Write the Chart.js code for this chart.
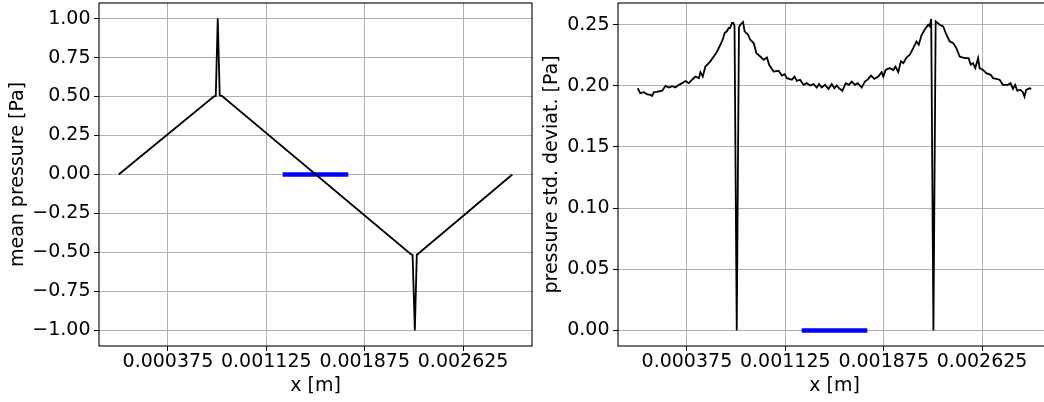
<!DOCTYPE html>
<html>
<head>
<meta charset="utf-8">
<script src="https://cdn.jsdelivr.net/npm/chart.js@4.4.1/dist/chart.umd.min.js"></script>
<style>
  html, body { margin: 0; padding: 0; background: #fff; overflow: hidden; }
  #figure { position: relative; width: 1044px; height: 402px; overflow: hidden; }
  #figure canvas { position: absolute; top: 0; }
  #meanChart { left: 0; }
  #stdChart { left: 519px; }
</style>
</head>
<body>
<div id="figure">
  <canvas id="meanChart" width="545" height="402"></canvas>
  <canvas id="stdChart" width="545" height="402"></canvas>
</div>
<script>
// Mean pressure along x
const meanX = [0, 0.000725, 0.00074, 0.000755, 0.00077, 0.000788,
  0.002225, 0.00224, 0.002257, 0.002272, 0.002285, 0.003];
const meanP = [0, 0.5, 0.505, 1.0, 0.508, 0.503,
  -0.51, -0.515, -1.0, -0.515, -0.507, 0];

// Pressure standard deviation along x
const stdX = [0, 0.00002, 0.000048, 0.000073, 0.000098, 0.000109, 0.000124, 0.000147, 0.000187, 0.000212,
  0.000238, 0.000263, 0.000288, 0.000314, 0.000339, 0.000364, 0.00039, 0.000415, 0.00044, 0.000466,
  0.000478, 0.000496, 0.000516, 0.000554, 0.00058, 0.000605, 0.00063, 0.000648, 0.000663, 0.000679,
  0.000694, 0.000704, 0.000719, 0.000729, 0.000738, 0.000755, 0.000772, 0.000782, 0.000803, 0.000815,
  0.000841, 0.000858, 0.000884, 0.000891, 0.000904, 0.000934, 0.00096, 0.000985, 0.001002, 0.001036,
  0.001074, 0.001099, 0.00112, 0.001137, 0.001175, 0.001195, 0.001213, 0.001238, 0.001264, 0.001289,
  0.001314, 0.00134, 0.001365, 0.001382, 0.001403, 0.001428, 0.001454, 0.001479, 0.0015, 0.001517,
  0.001535, 0.00156, 0.001585, 0.00161, 0.001631, 0.001656, 0.001677, 0.001707, 0.001732, 0.001758,
  0.001778, 0.001804, 0.001834, 0.001859, 0.001872, 0.00189, 0.001922, 0.001948, 0.001965, 0.001986,
  0.002006, 0.002024, 0.002049, 0.002074, 0.0021, 0.002125, 0.002142, 0.002163, 0.002188, 0.002214,
  0.002226, 0.002237, 0.002254, 0.002271, 0.002302, 0.002328, 0.002353, 0.002378, 0.002404, 0.002429,
  0.002454, 0.002492, 0.002522, 0.002538, 0.002556, 0.002573, 0.002594, 0.002606, 0.002632, 0.002657,
  0.00269, 0.002708, 0.002733, 0.002758, 0.002784, 0.002822, 0.002842, 0.00286, 0.002877, 0.002893,
  0.002918, 0.002936, 0.002948, 0.002961, 0.002986, 0.003];
const stdP = [0.198, 0.194, 0.1948, 0.193, 0.1926, 0.1918, 0.1948, 0.195, 0.196, 0.2,
  0.1986, 0.1997, 0.1986, 0.2008, 0.2022, 0.204, 0.2022, 0.205, 0.2076, 0.2063,
  0.2112, 0.2076, 0.2158, 0.22, 0.224, 0.228, 0.2336, 0.2377, 0.2432, 0.2446,
  0.2473, 0.2473, 0.2514, 0.2514, 0.249, 0, 0.248, 0.25, 0.2522, 0.2446,
  0.2418, 0.2377, 0.235, 0.2323, 0.2268, 0.224, 0.2213, 0.2232, 0.2172, 0.2117,
  0.2123, 0.2084, 0.2096, 0.2063, 0.205, 0.2076, 0.204, 0.205, 0.2008, 0.2022,
  0.2003, 0.2014, 0.1986, 0.2014, 0.1986, 0.2008, 0.1975, 0.2014, 0.198, 0.2003,
  0.198, 0.196, 0.2022, 0.2008, 0.2035, 0.2008, 0.2022, 0.1986, 0.2035, 0.2057,
  0.2084, 0.2057, 0.2076, 0.2112, 0.2076, 0.213, 0.2145, 0.213, 0.2158, 0.2112,
  0.22, 0.2186, 0.2232, 0.2254, 0.2309, 0.2363, 0.2336, 0.2413, 0.246, 0.25,
  0.2486, 0.2547, 0, 0.2527, 0.25, 0.2486, 0.2418, 0.2363, 0.235, 0.2309,
  0.224, 0.2227, 0.2227, 0.2172, 0.2186, 0.2145, 0.2227, 0.2145, 0.213, 0.2104,
  0.209, 0.2063, 0.2057, 0.205, 0.2008, 0.2008, 0.2022, 0.1975, 0.2008, 0.196,
  0.1967, 0.1948, 0.1912, 0.1967, 0.198, 0.1975];

// Blue reference segment drawn on both panels
const segmentX = [0.00125, 0.00175];
const segmentY = [0, 0];

// Axis ticks and their labels
const xTickValues = [0.000375, 0.001125, 0.001875, 0.002625];
const xTickLabels = ['0.000375', '0.001125', '0.001875', '0.002625'];
const meanTickValues = [-1, -0.75, -0.5, -0.25, 0, 0.25, 0.5, 0.75, 1];
const meanTickLabels = ['\u22121.00', '\u22120.75', '\u22120.50', '\u22120.25', '0.00', '0.25', '0.50', '0.75', '1.00'];
const stdTickValues = [0, 0.05, 0.1, 0.15, 0.2, 0.25];
const stdTickLabels = ['0.00', '0.05', '0.10', '0.15', '0.20', '0.25'];

const X_MIN = -0.00015, X_MAX = 0.00315;
const FONT = { family: 'DejaVu Sans', size: 19, lineHeight: 1.2 };

const toPoints = (xs, ys) => xs.map((x, i) => ({ x, y: ys[i] }));

// Full rectangular frame around the plotting area
const framePlugin = {
  id: 'frame',
  afterDatasetsDraw(chart) {
    const { ctx, chartArea: a } = chart;
    ctx.save();
    ctx.strokeStyle = '#000';
    ctx.lineWidth = 1.1;
    ctx.strokeRect(a.left, a.top, a.right - a.left, a.bottom - a.top);
    ctx.restore();
  }
};

const gridOpts = { color: '#b0b0b0', lineWidth: 1, drawTicks: true, tickLength: 5, tickColor: '#000', tickWidth: 1 };

function makeChart(id, opts) {
  return new Chart(document.getElementById(id), {
    type: 'line',
    data: {
      datasets: [
        { data: toPoints(opts.xs, opts.ys), borderColor: '#000', borderWidth: 1.8, pointRadius: 0, tension: 0, fill: false },
        { data: toPoints(segmentX, segmentY), borderColor: '#0000ff', borderWidth: 4.5, pointRadius: 0, tension: 0, fill: false, borderCapStyle: 'butt' }
      ]
    },
    options: {
      responsive: false,
      devicePixelRatio: 1,
      animation: false,
      events: [],
      layout: { padding: { left: 0, top: 3, right: 13, bottom: 0 } },
      plugins: { legend: { display: false }, tooltip: { enabled: false } },
      scales: {
        x: {
          type: 'linear', min: X_MIN, max: X_MAX,
          afterBuildTicks: s => { s.ticks = xTickValues.map(v => ({ value: v })); },
          afterFit: s => { s.height = 56; s.paddingLeft = 0; s.paddingRight = 0; },
          ticks: { autoSkip: false, maxRotation: 0, minRotation: 0, padding: 0, color: '#000', font: FONT,
                   callback: (v, i) => xTickLabels[i] },
          grid: gridOpts,
          border: { display: false },
          title: { display: true, text: 'x [m]', color: '#000', font: FONT, padding: { top: 0, bottom: 4.5 } }
        },
        y: {
          type: 'linear', min: opts.yMin, max: opts.yMax,
          afterBuildTicks: s => { s.ticks = opts.tickValues.map(v => ({ value: v })); },
          afterFit: s => { s.width = 99; s.paddingTop = 0; s.paddingBottom = 0; },
          ticks: { autoSkip: false, padding: 3.5, color: '#000', font: FONT,
                   callback: (v, i) => opts.tickLabels[i] },
          grid: gridOpts,
          border: { display: false },
          title: { display: true, text: opts.yTitle, color: '#000', font: FONT, padding: { top: opts.titlePad, bottom: 0 } }
        }
      }
    },
    plugins: [framePlugin]
  });
}

makeChart('meanChart', {
  xs: meanX, ys: meanP, yMin: -1.1, yMax: 1.1,
  tickValues: meanTickValues, tickLabels: meanTickLabels,
  yTitle: 'mean pressure [Pa]', titlePad: 7
});

makeChart('stdChart', {
  xs: stdX, ys: stdP, yMin: -0.01275, yMax: 0.26775,
  tickValues: stdTickValues, tickLabels: stdTickLabels,
  yTitle: 'pressure std. deviat. [Pa]', titlePad: 21.8
});
</script>
</body>
</html>
